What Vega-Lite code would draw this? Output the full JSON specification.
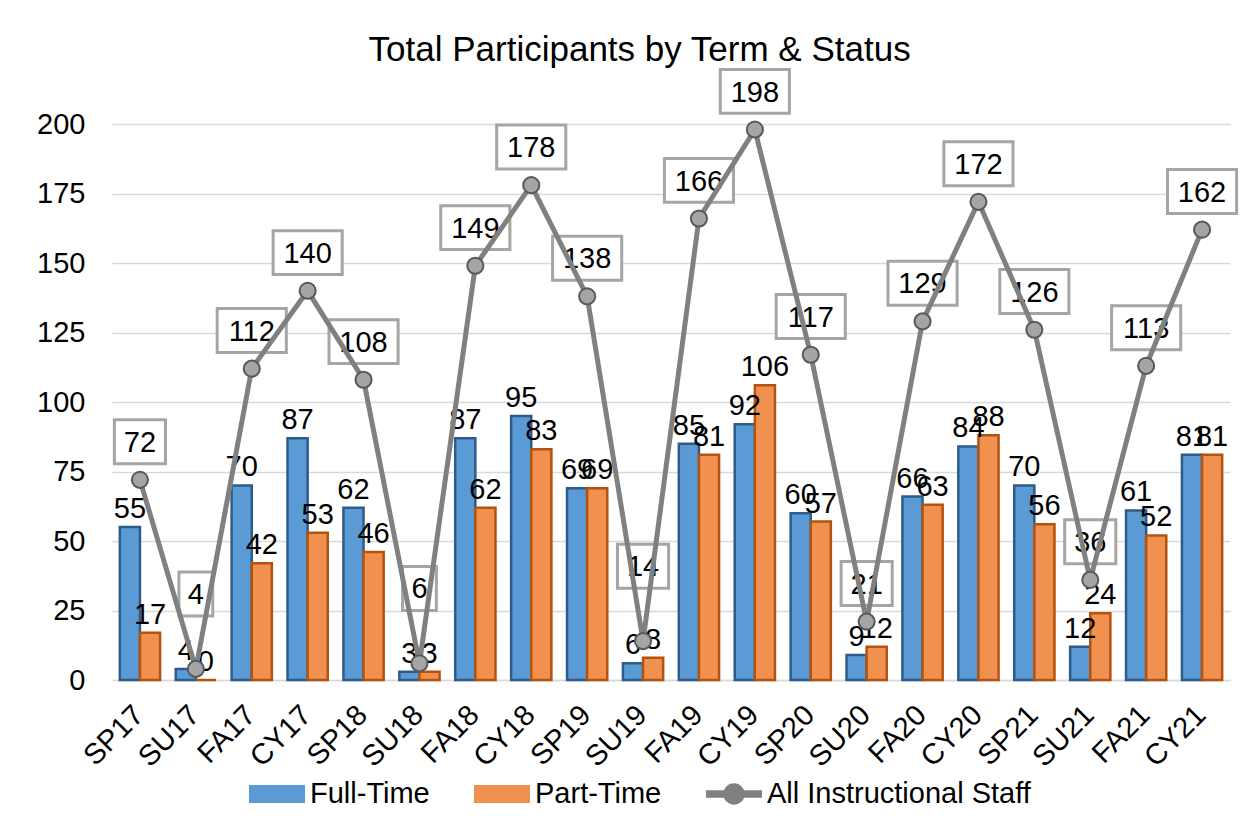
{
  "$schema": "https://vega.github.io/schema/vega-lite/v6.json",
  "width": 1118,
  "height": 556,
  "autosize": "none",
  "padding": {"left": 112, "top": 124, "right": 27, "bottom": 151},
  "background": "white",
  "title": {
    "text": "Total Participants by Term & Status",
    "fontSize": 35,
    "font": "Liberation Sans",
    "fontWeight": "normal",
    "color": "#000000",
    "anchor": "middle",
    "frame": "bounds",
    "baseline": "alphabetic",
    "offset": -33
  },
  "data": {
    "values": [
      {"Term": "SP17", "Full-Time": 55, "Part-Time": 17, "All": 72},
      {"Term": "SU17", "Full-Time": 4, "Part-Time": 0, "All": 4},
      {"Term": "FA17", "Full-Time": 70, "Part-Time": 42, "All": 112},
      {"Term": "CY17", "Full-Time": 87, "Part-Time": 53, "All": 140},
      {"Term": "SP18", "Full-Time": 62, "Part-Time": 46, "All": 108},
      {"Term": "SU18", "Full-Time": 3, "Part-Time": 3, "All": 6},
      {"Term": "FA18", "Full-Time": 87, "Part-Time": 62, "All": 149},
      {"Term": "CY18", "Full-Time": 95, "Part-Time": 83, "All": 178},
      {"Term": "SP19", "Full-Time": 69, "Part-Time": 69, "All": 138},
      {"Term": "SU19", "Full-Time": 6, "Part-Time": 8, "All": 14},
      {"Term": "FA19", "Full-Time": 85, "Part-Time": 81, "All": 166},
      {"Term": "CY19", "Full-Time": 92, "Part-Time": 106, "All": 198},
      {"Term": "SP20", "Full-Time": 60, "Part-Time": 57, "All": 117},
      {"Term": "SU20", "Full-Time": 9, "Part-Time": 12, "All": 21},
      {"Term": "FA20", "Full-Time": 66, "Part-Time": 63, "All": 129},
      {"Term": "CY20", "Full-Time": 84, "Part-Time": 88, "All": 172},
      {"Term": "SP21", "Full-Time": 70, "Part-Time": 56, "All": 126},
      {"Term": "SU21", "Full-Time": 12, "Part-Time": 24, "All": 36},
      {"Term": "FA21", "Full-Time": 61, "Part-Time": 52, "All": 113},
      {"Term": "CY21", "Full-Time": 81, "Part-Time": 81, "All": 162}
    ]
  },
  "encoding": {
    "x": {
      "field": "Term",
      "type": "nominal",
      "sort": null,
      "scale": {"paddingInner": 0.28, "paddingOuter": 0.14},
      "axis": {
        "title": null,
        "labelAngle": -45,
        "labelAlign": "right",
        "labelBaseline": "middle",
        "labelPadding": 30,
        "labelOffset": -1,
        "labelFontSize": 29,
        "labelFont": "Liberation Sans",
        "labelColor": "#000000",
        "ticks": false,
        "domain": true,
        "domainColor": "#D9D9D9",
        "domainWidth": 1.5,
        "grid": false
      }
    }
  },
  "layer": [
    {
      "transform": [{"fold": ["Full-Time", "Part-Time"], "as": ["Status", "Count"]}],
      "layer": [
        {
          "mark": {"type": "bar", "strokeWidth": 2.5, "opacity": 1},
          "encoding": {
            "xOffset": {"field": "Status", "type": "nominal", "scale": {"domain": ["Full-Time", "Part-Time"], "paddingInner": 0, "paddingOuter": 0}},
            "y": {
              "field": "Count",
              "type": "quantitative",
              "scale": {"domain": [0, 200], "nice": false},
              "axis": {
                "title": null,
                "values": [0, 25, 50, 75, 100, 125, 150, 175, 200],
                "grid": true,
                "gridColor": "#D9D9D9",
                "gridWidth": 1.5,
                "domain": false,
                "ticks": false,
                "labelPadding": 27,
                "labelFontSize": 29,
                "labelFont": "Liberation Sans",
                "labelColor": "#000000"
              }
            },
            "color": {
              "field": "Status",
              "type": "nominal",
              "scale": {
                "domain": ["Full-Time", "Part-Time", "All Instructional Staff"],
                "range": ["#5B9BD5", "#F0914F", "#808080"]
              },
              "legend": {
                "orient": "none",
                "legendX": 137,
                "legendY": 642,
                "direction": "horizontal",
                "title": null,
                "labelFontSize": 29,
                "labelFont": "Liberation Sans",
                "labelColor": "#000000",
                "labelLimit": 500,
                "symbolSize": 2916,
                "labelOffset": 5,
                "columnPadding": 41,
                "padding": 0,
                "encoding": {
                  "symbols": {
                    "shape": {
                      "condition": {"test": "datum.value === 'All Instructional Staff'", "value": "M-1,-0.1H1V0.1H-1Z M-0.36,0A0.36,0.36 0 1,1 0.36,0A0.36,0.36 0 1,1 -0.36,0Z"},
                      "value": "M-1,-0.3H1V0.3H-1Z"
                    },
                    "fill": {
                      "condition": [
                        {"test": "datum.value === 'Full-Time'", "value": "#5B9BD5"},
                        {"test": "datum.value === 'Part-Time'", "value": "#F0914F"}
                      ],
                      "value": "#8C8C8C"
                    },
                    "stroke": {
                      "condition": [
                        {"test": "datum.value === 'Full-Time'", "value": "#2E5C8A"},
                        {"test": "datum.value === 'Part-Time'", "value": "#B4530F"}
                      ],
                      "value": "#595959"
                    },
                    "strokeWidth": {"value": 2},
                    "opacity": {"value": 1},
                    "fillOpacity": {"value": 1},
                    "strokeOpacity": {"value": 1}
                  }
                }
              }
            },
            "stroke": {
              "field": "Status",
              "type": "nominal",
              "scale": {"domain": ["Full-Time", "Part-Time"], "range": ["#2E5C8A", "#B4530F"]},
              "legend": null
            }
          }
        },
        {
          "mark": {"type": "text", "baseline": "alphabetic", "dy": -9, "fontSize": 29, "font": "Liberation Sans", "color": "#000000"},
          "encoding": {
            "xOffset": {"field": "Status", "type": "nominal", "scale": {"domain": ["Full-Time", "Part-Time"], "paddingInner": 0, "paddingOuter": 0}},
            "y": {"field": "Count", "type": "quantitative", "scale": {"domain": [0, 200], "nice": false}},
            "text": {"field": "Count", "type": "quantitative"}
          }
        }
      ]
    },
    {
      "transform": [{"filter": "datum.All >= 15"}],
      "layer": [
        {
          "mark": {"type": "point", "filled": true, "fill": "white", "stroke": "#A5A5A5", "strokeWidth": 3, "opacity": 1, "size": 5184},
          "encoding": {
            "y": {"field": "All", "type": "quantitative", "scale": {"domain": [0, 200], "nice": false}},
            "shape": {
              "condition": {"test": "datum.All >= 100", "value": "M-0.96,-1.67H0.96V-0.45H-0.96Z"},
              "value": "M-0.71,-1.67H0.71V-0.45H-0.71Z"
            }
          }
        },
        {
          "mark": {"type": "text", "baseline": "middle", "dy": -37, "fontSize": 29, "font": "Liberation Sans", "color": "#000000"},
          "encoding": {
            "y": {"field": "All", "type": "quantitative", "scale": {"domain": [0, 200], "nice": false}},
            "text": {"field": "All", "type": "quantitative"}
          }
        }
      ]
    },
    {
      "transform": [{"filter": "datum.All < 15"}],
      "layer": [
        {
          "mark": {"type": "point", "filled": true, "fill": "white", "stroke": "#A5A5A5", "strokeWidth": 3, "opacity": 1, "size": 5184},
          "encoding": {
            "y": {"field": "All", "type": "quantitative", "scale": {"domain": [0, 200], "nice": false}},
            "shape": {
              "condition": {"test": "datum.All >= 10", "value": "M-0.71,-2.69H0.71V-1.47H-0.71Z"},
              "value": "M-0.47,-2.69H0.47V-1.47H-0.47Z"
            }
          }
        },
        {
          "mark": {"type": "text", "baseline": "middle", "dy": -74, "fontSize": 29, "font": "Liberation Sans", "color": "#000000"},
          "encoding": {
            "y": {"field": "All", "type": "quantitative", "scale": {"domain": [0, 200], "nice": false}},
            "text": {"field": "All", "type": "quantitative"}
          }
        }
      ]
    },
    {
      "mark": {"type": "line", "strokeWidth": 5},
      "encoding": {
        "y": {"field": "All", "type": "quantitative", "scale": {"domain": [0, 200], "nice": false}},
        "color": {"datum": "All Instructional Staff"}
      }
    },
    {
      "mark": {"type": "point", "filled": true, "fill": "#A5A5A5", "stroke": "#595959", "strokeWidth": 2, "opacity": 1, "size": 260},
      "encoding": {
        "y": {"field": "All", "type": "quantitative", "scale": {"domain": [0, 200], "nice": false}}
      }
    }
  ],
  "config": {
    "view": {"stroke": null},
    "font": "Liberation Sans"
  }
}
